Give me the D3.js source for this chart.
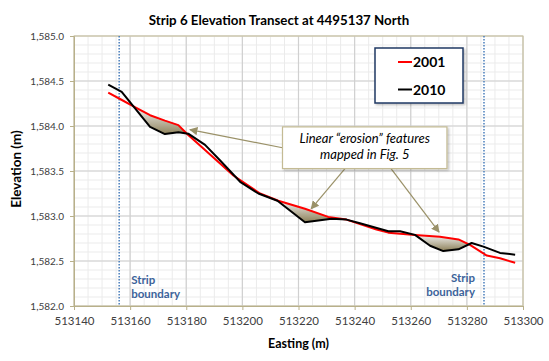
<!DOCTYPE html>
<html>
<head>
<meta charset="utf-8">
<script src="https://cdn.jsdelivr.net/npm/d3@7"></script>
<style>
  body { margin: 0; background: #fff; }
  text { font-family: Lato, "Open Sans", sans-serif; }
</style>
</head>
<body>
<div id="chart"></div>
<script>
// Survey profiles: [easting, elevation]
const eastings2001 = [513152.2, 513156.4, 513161.7, 513167.1, 513172.4, 513177.2, 513180.7, 513186.1, 513196.8, 513206.3, 513212.8, 513222.3, 513230.6, 513237.1, 513247.8, 513252.0, 513261.5, 513270.4, 513277.0, 513281.1, 513287.1, 513291.8, 513297.2];
const elev2001 = [1584.37, 1584.30, 1584.21, 1584.12, 1584.06, 1584.01, 1583.90, 1583.75, 1583.45, 1583.25, 1583.17, 1583.08, 1582.99, 1582.96, 1582.85, 1582.815, 1582.79, 1582.77, 1582.74, 1582.68, 1582.56, 1582.53, 1582.48];

const eastings2010 = [513152.2, 513157.0, 513167.1, 513172.4, 513177.2, 513180.7, 513186.7, 513192.0, 513199.2, 513205.7, 513212.5, 513222.3, 513231.8, 513237.1, 513241.9, 513252.0, 513256.2, 513261.5, 513266.9, 513271.6, 513277.0, 513281.7, 513285.9, 513291.8, 513297.2];
const elev2010 = [1584.46, 1584.38, 1583.99, 1583.91, 1583.93, 1583.915, 1583.79, 1583.62, 1583.38, 1583.25, 1583.17, 1582.93, 1582.97, 1582.96, 1582.92, 1582.83, 1582.83, 1582.79, 1582.67, 1582.61, 1582.63, 1582.70, 1582.66, 1582.59, 1582.57];

// erosion features (easting ranges where 2010 dips below 2001)
const erosionRanges = [[513161.7, 513180.7], [513212.6, 513232.5], [513261.5, 513281.0]];
// arrow tips for the callout
const arrowTargets = [[513181.3, 1583.96], [513224.5, 1583.08], [513270.1, 1582.82]];

const stripBoundaries = [513156.1, 513286.1];
const xTickValues = [513140, 513160, 513180, 513200, 513220, 513240, 513260, 513280, 513300];
const yTickValues = [1582.0, 1582.5, 1583.0, 1583.5, 1584.0, 1584.5, 1585.0];

const series = [
    { name: "2001", color: "#ff0000", points: eastings2001.map((e, i) => [e, elev2001[i]]) },
    { name: "2010", color: "#000000", points: eastings2010.map((e, i) => [e, elev2010[i]]) }
];

let width = 449,
    height = 270;
let margin = { top: 36, left: 74 };

let root = d3.select("#chart")
    .append("svg")
    .attr("width", 549)
    .attr("height", 361);

let defs = root.append("defs");
let grad = defs.append("linearGradient")
    .attr("id", "erosionFill")
    .attr("x1", 0).attr("y1", 0).attr("x2", 0).attr("y2", 1);
grad.append("stop").attr("offset", "0%").attr("stop-color", "#f2f2f2");
grad.append("stop").attr("offset", "100%").attr("stop-color", "#8c8058");

defs.append("marker")
    .attr("id", "arrow")
    .attr("viewBox", "0 0 10 10")
    .attr("refX", 9).attr("refY", 5)
    .attr("markerWidth", 7).attr("markerHeight", 7)
    .attr("orient", "auto")
    .append("path")
    .attr("d", "M0,0 L10,5 L0,10 z")
    .attr("fill", "#9a9168");

let shadow = defs.append("filter").attr("id", "shadow")
    .attr("x", "-10%").attr("y", "-10%").attr("width", "130%").attr("height", "140%");
shadow.append("feDropShadow").attr("dx", 1.5).attr("dy", 1.5).attr("stdDeviation", 1.2)
    .attr("flood-color", "#000").attr("flood-opacity", 0.25);

let svg = root.append("g")
    .attr("transform", `translate(${margin.left},${margin.top})`);

// Scales
let x = d3.scaleLinear().domain([513140, 513300]).range([0, width]);
let y = d3.scaleLinear().domain([1582.0, 1585.0]).range([height, 0]);

// Minor gridlines
svg.append("g").selectAll("line")
    .data(d3.range(513140, 513301, 5))
    .enter().append("line")
    .attr("x1", d => x(d)).attr("x2", d => x(d))
    .attr("y1", 0).attr("y2", height)
    .attr("stroke", "#ebebeb");
svg.append("g").selectAll("line")
    .data(d3.range(0, 31).map(i => 1582 + i * 0.1))
    .enter().append("line")
    .attr("x1", 0).attr("x2", width)
    .attr("y1", d => y(d)).attr("y2", d => y(d))
    .attr("stroke", "#ebebeb");

// Major gridlines
svg.append("g").selectAll("line")
    .data(xTickValues)
    .enter().append("line")
    .attr("x1", d => x(d)).attr("x2", d => x(d))
    .attr("y1", 0).attr("y2", height)
    .attr("stroke", "#d0d0d0").attr("stroke-width", 1.2);
svg.append("g").selectAll("line")
    .data(yTickValues)
    .enter().append("line")
    .attr("x1", 0).attr("x2", width)
    .attr("y1", d => y(d)).attr("y2", d => y(d))
    .attr("stroke", "#d0d0d0").attr("stroke-width", 1.2);

// Plot border
svg.append("rect")
    .attr("width", width).attr("height", height)
    .attr("fill", "none")
    .attr("stroke", "#c9c19c");

// Axes
let xAxis = svg.append("g")
    .attr("transform", `translate(0,${height})`)
    .call(d3.axisBottom(x).tickValues(xTickValues).tickFormat(d3.format("d")).tickSizeOuter(0).tickSize(4).tickPadding(7));
let yAxis = svg.append("g")
    .call(d3.axisLeft(y).tickValues(yTickValues).tickFormat(d3.format(",.1f")).tickSizeOuter(0).tickSize(4).tickPadding(6));
[xAxis, yAxis].forEach(a => {
    a.select(".domain").attr("stroke", "#b8b08a");
    a.selectAll(".tick line").attr("stroke", "#b8b08a");
    a.selectAll(".tick text").attr("fill", "#404040").style("font-family", "Lato, sans-serif");
});
xAxis.selectAll(".tick text").style("font-size", "11.5px");
yAxis.selectAll(".tick text").style("font-size", "10px");

// Erosion shading between the two profiles
function interp(points, e) {
    const xs = points.map(p => p[0]);
    const ys = points.map(p => p[1]);
    return d3.scaleLinear().domain(xs).range(ys)(e);
}
let area = d3.area()
    .x(d => x(d[0]))
    .y0(d => y(d[1]))
    .y1(d => y(d[2]));
erosionRanges.forEach(r => {
    let es = [...new Set([r[0], r[1]]
        .concat(eastings2001.filter(e => e > r[0] && e < r[1]))
        .concat(eastings2010.filter(e => e > r[0] && e < r[1])))].sort((a, b) => a - b);
    let pts = es.map(e => [e, interp(series[0].points, e), interp(series[1].points, e)]);
    svg.append("path")
        .datum(pts)
        .attr("d", area)
        .attr("fill", "url(#erosionFill)");
});

// Strip boundaries
stripBoundaries.forEach(b => {
    svg.append("line")
        .attr("x1", x(b)).attr("x2", x(b))
        .attr("y1", 0).attr("y2", height)
        .attr("stroke", "#4a7ebb")
        .attr("stroke-width", 1.5)
        .attr("stroke-dasharray", "1.5,1.5");
});
let sbColor = "#3c639a";
let leftLabel = svg.append("text")
    .attr("font-size", "11.5px").attr("font-weight", "bold").attr("fill", sbColor);
leftLabel.append("tspan").attr("x", x(stripBoundaries[0]) + 12).attr("y", 248).text("Strip");
leftLabel.append("tspan").attr("x", x(stripBoundaries[0]) + 12).attr("y", 262).text("boundary");
let rightLabel = svg.append("text")
    .attr("text-anchor", "end")
    .attr("font-size", "11.5px").attr("font-weight", "bold").attr("fill", sbColor);
rightLabel.append("tspan").attr("x", x(stripBoundaries[1]) - 9).attr("y", 246).text("Strip");
rightLabel.append("tspan").attr("x", x(stripBoundaries[1]) - 9).attr("y", 260).text("boundary");

// Profile lines
let line = d3.line()
    .x(d => x(d[0]))
    .y(d => y(d[1]));
series.forEach(s => {
    svg.append("path")
        .datum(s.points)
        .attr("fill", "none")
        .attr("stroke", s.color)
        .attr("stroke-width", 2)
        .attr("stroke-linejoin", "round")
        .attr("d", line);
});

// Callout box and arrows
let boxX = x(513214.3), boxY = y(1583.99);
let boxW = x(513272.9) - boxX, boxH = y(1583.527) - boxY;
let arrowStarts = [[boxX, boxY + boxH * 0.5], [boxX + boxW * 0.38, boxY + boxH], [boxX + boxW * 0.66, boxY + boxH]];
arrowTargets.forEach((t, i) => {
    svg.append("line")
        .attr("x1", arrowStarts[i][0]).attr("y1", arrowStarts[i][1])
        .attr("x2", x(t[0])).attr("y2", y(t[1]))
        .attr("stroke", "#9a9168")
        .attr("stroke-width", 1.2)
        .attr("marker-end", "url(#arrow)");
});
svg.append("rect")
    .attr("x", boxX).attr("y", boxY)
    .attr("width", boxW).attr("height", boxH)
    .attr("fill", "#fff")
    .attr("stroke", "#c4bb94")
    .attr("stroke-width", 1.2)
    .attr("filter", "url(#shadow)");
let callout = svg.append("text")
    .attr("text-anchor", "middle")
    .attr("font-size", "13px")
    .attr("font-style", "italic")
    .attr("fill", "#000");
callout.append("tspan").attr("x", boxX + boxW / 2).attr("y", boxY + 16.5).text("Linear \u201Cerosion\u201D features");
callout.append("tspan").attr("x", boxX + boxW / 2).attr("y", boxY + 32.5).text("mapped in Fig. 5");

// Legend
let legend = svg.append("g").attr("transform", `translate(${375 - margin.left},${48 - margin.top})`);
legend.append("rect")
    .attr("width", 88).attr("height", 55)
    .attr("fill", "#fff")
    .attr("stroke", "#1f3864")
    .attr("stroke-width", 1.5)
    .attr("filter", "url(#shadow)");
series.forEach((s, i) => {
    legend.append("line")
        .attr("x1", 23).attr("x2", 37)
        .attr("y1", 14 + i * 27.5).attr("y2", 14 + i * 27.5)
        .attr("stroke", s.color).attr("stroke-width", 2);
    legend.append("text")
        .attr("x", 38).attr("y", 19 + i * 27.5)
        .attr("font-size", "14px").attr("font-weight", "bold")
        .text(s.name);
});

// Title and axis labels
root.append("text")
    .attr("x", 279).attr("y", 25)
    .attr("text-anchor", "middle")
    .attr("font-size", "13.3px").attr("font-weight", "bold")
    .text("Strip 6 Elevation Transect at 4495137 North");
root.append("text")
    .attr("x", margin.left + width / 2).attr("y", 348)
    .attr("text-anchor", "middle")
    .attr("font-size", "12.5px").attr("font-weight", "bold")
    .text("Easting (m)");
root.append("text")
    .attr("transform", "rotate(-90)")
    .attr("x", -169).attr("y", 21)
    .attr("text-anchor", "middle")
    .attr("font-size", "13.5px").attr("font-weight", "bold")
    .text("Elevation (m)");
</script>
</body>
</html>
